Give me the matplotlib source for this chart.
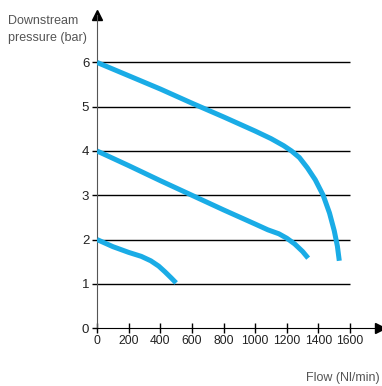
import matplotlib.pyplot as plt

# curves (flow in Nl/min, pressure in bar)
flow_6 = [0, 200, 400, 600, 800, 1000, 1100, 1180, 1230, 1280, 1330, 1380, 1430, 1470, 1500, 1520, 1532]
pres_6 = [6.0, 5.7, 5.4, 5.08, 4.77, 4.45, 4.28, 4.12, 4.0, 3.85, 3.62, 3.35, 3.0, 2.6, 2.2, 1.85, 1.52]

flow_4 = [0, 200, 400, 600, 800, 1000, 1080, 1150, 1200, 1250, 1300, 1335]
pres_4 = [4.0, 3.67, 3.33, 3.0, 2.67, 2.35, 2.22, 2.13, 2.03, 1.9, 1.73, 1.58]

flow_2 = [0, 100, 200, 280, 340, 390, 430, 470, 500]
pres_2 = [2.0, 1.84, 1.71, 1.62, 1.52, 1.4, 1.27, 1.13, 1.02]

x_ticks = [0, 200, 400, 600, 800, 1000, 1200, 1400, 1600]
y_ticks = [0, 1, 2, 3, 4, 5, 6]

blue = "#1aace6"
font = ["Liberation Sans", "DejaVu Sans"]

fig = plt.figure(figsize=(3.82, 3.86), dpi=100)
ax = fig.add_axes([0.254, 0.150, 0.741, 0.811])
ax.set_xlim(0, 1790)
ax.set_ylim(0, 7.07)

# horizontal reference lines
ax.hlines(y_ticks[1:], 0, 1600, color="black", lw=1.0, zorder=1)

for fx, py in [(flow_6, pres_6), (flow_4, pres_4), (flow_2, pres_2)]:
    ax.plot(fx, py, color=blue, lw=3.6, solid_capstyle="butt", zorder=3)

for s in ["top", "right"]:
    ax.spines[s].set_visible(False)
ax.spines["left"].set_color("#555555")
ax.spines["bottom"].set_color("black")

# arrow heads on the axes
ax.plot(1, 0, ">k", ms=7, transform=ax.transAxes, clip_on=False)
ax.plot(0, 1, "^k", ms=7, transform=ax.transAxes, clip_on=False)

ax.set_xticks(x_ticks)
ax.set_yticks(y_ticks)
ax.tick_params(axis="x", direction="inout", length=6.5, width=1, pad=2)
ax.tick_params(axis="y", direction="out", length=3.6, width=1, pad=2)
for lab in ax.get_xticklabels():
    lab.set_family(font)
    lab.set_fontsize(8.7)
    lab.set_color("#222222")
for lab in ax.get_yticklabels():
    lab.set_family(font)
    lab.set_fontsize(9.5)
    lab.set_color("#222222")

fig.text(0.02, 0.962, "Downstream\npressure (bar)", ha="left", va="top",
         family=font, fontsize=9, color="#555555", linespacing=1.6)
fig.text(0.995, 0.006, "Flow (Nl/min)", ha="right", va="bottom",
         family=font, fontsize=9, color="#555555")

fig.savefig("out.png", dpi=100)
